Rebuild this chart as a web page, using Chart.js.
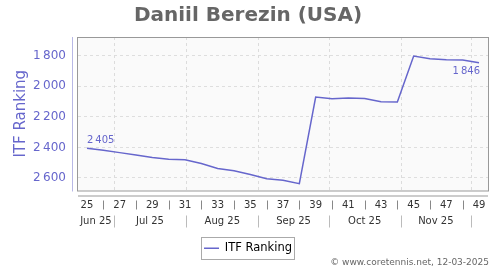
<!DOCTYPE html>
<html><head><meta charset="utf-8">
<script src="https://cdn.jsdelivr.net/npm/chart.js@4/dist/chart.umd.min.js"></script>
<style>html,body{margin:0;padding:0;background:#fff;}#wrap{width:500px;height:270px;position:relative;}</style>
</head><body><div id="wrap"><canvas id="c"></canvas></div>
<script>
// ---- data ----
const weeks = [25,26,27,28,29,30,31,32,33,34,35,36,37,38,39,40,41,42,43,44,45,46,47,48,49];
const rankings = [2405,2418,2434,2449,2466,2477,2481,2505,2538,2553,2577,2605,2615,2637,2070,2081,2077,2079,2101,2103,1802,1819,1826,1828,1846];
const weekTickLabels = [25,27,29,31,33,35,37,39,41,43,45,47,49];
const yTickValues = [1800,2000,2200,2400,2600];
const monthLabels = ['Jun 25','Jul 25','Aug 25','Sep 25','Oct 25','Nov 25'];
const monthStartDates = ['2025-07-01','2025-08-01','2025-09-01','2025-10-01','2025-11-01','2025-12-01'];
const firstWeekMidDate = '2025-06-19T12:00:00Z'; // middle of ISO week 25
const labelledIdx = [0, rankings.length - 1];
const seriesName = 'ITF Ranking';
const titleText = 'Daniil Berezin (USA)';
const creditText = '\u00a9 www.coretennis.net, 12-03-2025';

// ---- helpers ----
const FONT = "'DejaVu Sans', Verdana, sans-serif";
const BLUE = '#6666cc';
const fmt = v => String(v).replace(/\B(?=(\d{3})+(?!\d))/g, '\u2009');
const dateToWeek = d => weeks[0] + (Date.parse(d + 'T00:00:00Z') - Date.parse(firstWeekMidDate)) / (7 * 86400000);
const monthStartWeeks = monthStartDates.map(dateToWeek);
const separatorWeeks = weeks.filter(w => !weekTickLabels.includes(w));
const X_MIN = 24.45, X_MAX = 49.55;

const decor = {
  id: 'decor',
  beforeDraw(chart) {
    const {ctx, chartArea: a} = chart;
    ctx.save();
    ctx.fillStyle = '#fafafa';
    ctx.fillRect(a.left, a.top, a.right - a.left, a.bottom - a.top);
    ctx.restore();
  },
  beforeDatasetsDraw(chart) {
    const {ctx, chartArea: a, scales: {x}} = chart;
    ctx.save();
    ctx.strokeStyle = '#dcdcdc';
    ctx.lineWidth = 1;
    ctx.setLineDash([3, 3]);
    monthStartWeeks.forEach(w => {
      if (w <= x.min || w >= x.max) return;
      const px = Math.round(x.getPixelForValue(w)) + 0.5;
      ctx.beginPath(); ctx.moveTo(px, a.top); ctx.lineTo(px, a.bottom); ctx.stroke();
    });
    ctx.restore();
  },
  afterDatasetsDraw(chart) {
    const {ctx} = chart;
    const meta = chart.getDatasetMeta(0);
    ctx.save();
    ctx.font = '10px ' + FONT;
    ctx.fillStyle = BLUE;
    ctx.textBaseline = 'middle';
    labelledIdx.forEach((i, k) => {
      const p = meta.data[i];
      if (k === 0) { ctx.textAlign = 'left'; ctx.fillText(fmt(rankings[i]), p.x, p.y - 7.5); }
      else { ctx.textAlign = 'right'; ctx.fillText(fmt(rankings[i]), p.x + 1, p.y + 9); }
    });
    ctx.restore();
  },
  afterDraw(chart) {
    const {ctx, chartArea: a, scales: {x}} = chart;
    ctx.save();
    // plot frame
    ctx.strokeStyle = '#999';
    ctx.lineWidth = 1;
    ctx.strokeRect(a.left - 0.5, a.top + 0.5, a.right - a.left + 1, a.bottom - a.top);
    // y axis line
    ctx.strokeStyle = '#b8b8e6';
    ctx.beginPath(); ctx.moveTo(a.left - 5.5, a.top); ctx.lineTo(a.left - 5.5, a.bottom + 1); ctx.stroke();
    // x axis line
    ctx.strokeStyle = '#999';
    ctx.beginPath(); ctx.moveTo(a.left, a.bottom + 5.5); ctx.lineTo(a.right, a.bottom + 5.5); ctx.stroke();
    // week separators
    ctx.strokeStyle = '#888';
    separatorWeeks.forEach(w => {
      const px = Math.round(x.getPixelForValue(w)) + 0.5;
      ctx.beginPath(); ctx.moveTo(px, a.bottom + 10); ctx.lineTo(px, a.bottom + 19); ctx.stroke();
    });
    // month separators
    ctx.strokeStyle = '#bbb';
    monthStartWeeks.forEach(w => {
      if (w <= x.min || w >= x.max) return;
      const px = Math.round(x.getPixelForValue(w)) + 0.5;
      ctx.beginPath(); ctx.moveTo(px, a.bottom + 25); ctx.lineTo(px, a.bottom + 37); ctx.stroke();
    });
    // legend frame
    const lg = chart.legend;
    if (lg && lg.legendHitBoxes && lg.legendHitBoxes.length) {
      const hb = lg.legendHitBoxes[0];
      ctx.strokeStyle = '#aaa';
      ctx.strokeRect(Math.round(hb.left) - 2.5, Math.round(hb.top) - 5.5, Math.round(hb.width) + 5, Math.round(hb.height) + 10);
    }
    // credit
    ctx.font = '9px ' + FONT;
    ctx.fillStyle = '#666';
    ctx.textAlign = 'right';
    ctx.textBaseline = 'middle';
    ctx.fillText(creditText, 489, 263);
    ctx.restore();
  }
};

new Chart(document.getElementById('c'), {
  type: 'line',
  data: {
    datasets: [{
      label: seriesName,
      data: weeks.map((w, i) => ({x: w, y: rankings[i]})),
      borderColor: BLUE,
      backgroundColor: BLUE,
      borderWidth: 1.5,
      pointRadius: 0,
      tension: 0,
      fill: false
    }]
  },
  options: {
    responsive: true,
    maintainAspectRatio: false,
    animation: false,
    events: [],
    layout: {padding: {left: 0, right: 4, top: 0, bottom: 6}},
    plugins: {
      title: {
        display: true, text: titleText, color: '#666',
        font: {family: FONT, size: 20, weight: 'bold'},
        padding: {top: 4, bottom: 9}
      },
      legend: {
        display: true, position: 'bottom',
        labels: {
          usePointStyle: true, pointStyle: 'line', pointStyleWidth: 15,
          color: '#000', font: {family: FONT, size: 11.5}, padding: 5
        }
      },
      tooltip: {enabled: false}
    },
    scales: {
      x: {
        type: 'linear', position: 'bottom', min: X_MIN, max: X_MAX,
        afterBuildTicks: s => { s.ticks = weekTickLabels.map(v => ({value: v})); },
        afterFit: s => { s.height = 22; },
        ticks: {autoSkip: false, maxRotation: 0, padding: 9, color: '#333',
          font: {family: FONT, size: 10}, callback: v => String(v)},
        grid: {display: false, drawTicks: false},
        border: {display: false}
      },
      xm: {
        type: 'linear', position: 'bottom', min: X_MIN, max: X_MAX,
        afterBuildTicks: s => {
          const edges = [s.min, ...monthStartWeeks];
          s.ticks = monthLabels.map((l, i) => ({value: (edges[i] + Math.min(edges[i + 1], s.max)) / 2}));
        },
        afterFit: s => { s.height = 25; },
        ticks: {autoSkip: false, maxRotation: 0, padding: 3, color: '#333',
          font: {family: FONT, size: 10}, callback: (v, i) => monthLabels[i]},
        grid: {display: false, drawTicks: false},
        border: {display: false}
      },
      y: {
        type: 'linear', reverse: true, min: 1677, max: 2682,
        afterBuildTicks: s => { s.ticks = yTickValues.map(v => ({value: v})); },
        afterFit: s => { s.width = 78; },
        ticks: {padding: 12, color: BLUE, font: {family: FONT, size: 12}, callback: v => fmt(v)},
        grid: {color: '#dedede', drawTicks: false},
        border: {display: false, dash: [3, 3]},
        title: {display: true, text: seriesName, color: BLUE,
          font: {family: FONT, size: 15}, padding: {top: 12, bottom: 0}}
      },
      yr: {
        type: 'linear', position: 'right', display: true,
        afterFit: s => { s.width = 8; },
        ticks: {display: false},
        grid: {display: false, drawTicks: false},
        border: {display: false},
        title: {display: false}
      }
    }
  },
  plugins: [decor]
});
</script>
</body></html>
